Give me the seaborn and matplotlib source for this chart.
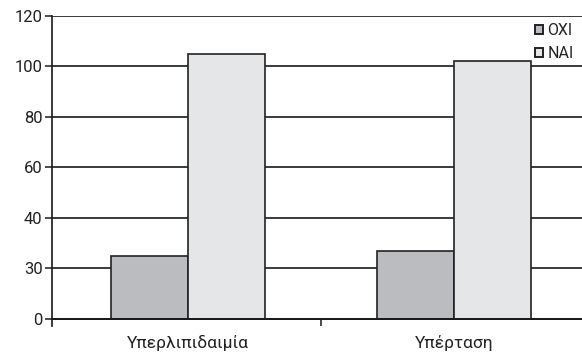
import matplotlib
matplotlib.use("Agg")
import matplotlib.pyplot as plt
import seaborn as sns
import pandas as pd

# Data
categories = ["Υπερλιπιδαιμία", "Υπέρταση"]
series_names = ["ΟΧΙ", "ΝΑΙ"]
oxi_values = [25, 27]
nai_values = [105, 102]
ytick_positions = [0, 20, 40, 60, 80, 100, 120]
ytick_labels = ["0", "30", "40", "60", "80", "100", "120"]

df = pd.DataFrame({
    "category": categories * 2,
    "group": [series_names[0]] * len(categories) + [series_names[1]] * len(categories),
    "value": oxi_values + nai_values,
})

sns.set_theme(style="white")
plt.rcParams["font.family"] = ["Roboto", "DejaVu Sans"]

fig = plt.figure(figsize=(5.82, 3.53), dpi=100)
ax = fig.add_axes([52.3 / 582, (353 - 325.7) / 353, (582 - 52.3) / 582, (325.7 - 16) / 353])

palette = {"ΟΧΙ": "#bbbcc0", "ΝΑΙ": "#e5e6e8"}
sns.barplot(data=df, x="category", y="value", hue="group", palette=palette,
            width=0.58, edgecolor="#222222", linewidth=1.2, saturation=1,
            ax=ax, zorder=3)

ax.set_xlim(-0.51, 1.48)
ax.set_ylim(-2.8, 120)

# horizontal rules
ax.set_yticks(ytick_positions)
ax.set_yticklabels(ytick_labels)
ax.yaxis.grid(True, color="#222222", linewidth=1.25)
ax.set_axisbelow(True)

for side in ["top", "right"]:
    ax.spines[side].set_visible(False)
ax.spines["left"].set_color("#1a1a1a")
ax.spines["left"].set_linewidth(1.2)
ax.spines["bottom"].set_position(("data", 0))
ax.spines["bottom"].set_color("#1a1a1a")
ax.spines["bottom"].set_linewidth(1.4)
ax.spines["bottom"].set_zorder(4)

ax.tick_params(axis="y", which="major", direction="out", length=5, width=1.1,
               color="#1a1a1a", labelsize=12, labelcolor="#222222", pad=2, left=True)
ax.set_xticks([0, 1])
ax.set_xticklabels(categories)
ax.tick_params(axis="x", which="major", length=0, labelsize=12.5, labelcolor="#222222", pad=12)
ax.set_xticks([0.5], minor=True)
ax.tick_params(axis="x", which="minor", direction="out", length=5, width=1.1,
               color="#1a1a1a", bottom=True)

ax.set_xlabel("")
ax.set_ylabel("")

leg = ax.legend(title=None, loc="upper right", bbox_to_anchor=(0.999, 1.002),
                frameon=False, fontsize=11.5, handlelength=0.5, handleheight=0.5,
                handletextpad=0.25, labelspacing=0.5, borderaxespad=0.1)
for h in leg.legend_handles:
    h.set_edgecolor("#222222")
    h.set_linewidth(1.4)
for t in leg.get_texts():
    t.set_color("#222222")

fig.savefig("out.png", dpi=100, facecolor="white")
